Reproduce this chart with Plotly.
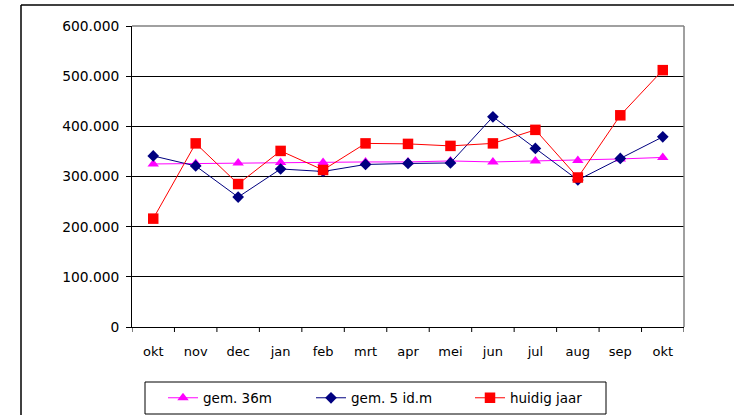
import plotly.graph_objects as go

months = ["okt", "nov", "dec", "jan", "feb", "mrt", "apr", "mei", "jun", "jul", "aug", "sep", "okt"]
gem36 = [325000, 326000, 327000, 328000, 328000, 329000, 329000, 331000, 329000, 331000, 332000, 335000, 338000]
gem5 = [341000, 321000, 259000, 315000, 310000, 324000, 326000, 327000, 419000, 356000, 293000, 336000, 379000]
huidig = [216000, 366000, 285000, 351000, 313000, 366000, 365000, 361000, 366000, 393000, 298000, 422000, 512000]

W, H = 734, 415
L, R, T, B = 132, 50, 26, 88
pw, ph = W - L - R, H - T - B

def px(x):
    return (x - L) / pw

def py(y):
    return (H - B - y) / ph

xcat = list(range(len(months)))

fig = go.Figure()
fig.add_trace(go.Scatter(x=xcat, y=gem36, name="gem. 36m", mode="lines+markers",
                         line=dict(color="#ff00ff", width=1),
                         marker=dict(symbol="triangle-up", size=10, color="#ff00ff"),
                         legend="legend"))
fig.add_trace(go.Scatter(x=xcat, y=gem5, name="gem. 5 id.m", mode="lines+markers",
                         line=dict(color="#000080", width=1),
                         marker=dict(symbol="diamond", size=9, color="#000080"),
                         legend="legend2"))
fig.add_trace(go.Scatter(x=xcat, y=huidig, name="huidig jaar", mode="lines+markers",
                         line=dict(color="#ff0000", width=1),
                         marker=dict(symbol="square", size=10.5, color="#ff0000"),
                         legend="legend3"))

font = dict(family="DejaVu Sans", size=13, color="black")
legfont = dict(family="DejaVu Sans", size=13.5, color="black")
legcommon = dict(orientation="h", yanchor="middle", xanchor="left",
                 xref="container", yref="container", y=1 - 398 / H,
                 bgcolor="rgba(0,0,0,0)", borderwidth=0, font=legfont)

fig.update_layout(
    width=W, height=H,
    margin=dict(l=L, r=R, t=T, b=B, autoexpand=False),
    paper_bgcolor="white", plot_bgcolor="white",
    separators=",.",
    font=font,
    showlegend=True,
    legend=dict(x=163 / W, **legcommon),
    legend2=dict(x=311 / W, **legcommon),
    legend3=dict(x=470 / W, **legcommon),
    xaxis=dict(
        range=[-0.5, len(months) - 0.5],
        tickmode="array", tickvals=xcat, ticktext=months,
        showgrid=False, zeroline=False,
        showline=True, linecolor="black", linewidth=1,
        ticks="", ticklabelstandoff=12, automargin=False,
    ),
    yaxis=dict(
        range=[0, 600000], dtick=100000, tick0=0,
        tickformat=",.0f",
        showgrid=True, gridcolor="black", gridwidth=1,
        zeroline=False,
        showline=True, linecolor="black", linewidth=1,
        ticks="outside", ticklen=5, tickcolor="black",
        ticklabelstandoff=4, automargin=False,
        tickfont=dict(family="DejaVu Sans", size=13.8, color="black"),
    ),
    shapes=[
        *[dict(type="line", xref="x", yref="paper", x0=i - 0.5, x1=i - 0.5, y0=0, y1=-5 / ph,
               line=dict(color="black", width=1)) for i in range(len(months) + 1)],
        dict(type="line", xref="paper", yref="paper", x0=0, x1=1, y0=1, y1=1,
             line=dict(color="#808080", width=1.5)),
        dict(type="line", xref="paper", yref="paper", x0=1, x1=1, y0=0, y1=1,
             line=dict(color="#808080", width=1.5)),
        dict(type="line", xref="paper", yref="paper", x0=px(21), x1=px(W + 10), y0=py(5), y1=py(5),
             line=dict(color="black", width=1.5)),
        dict(type="line", xref="paper", yref="paper", x0=px(21), x1=px(21), y0=py(5), y1=py(H + 10),
             line=dict(color="black", width=1.5)),
        dict(type="rect", xref="paper", yref="paper", x0=px(145), x1=px(606), y0=py(414), y1=py(382),
             line=dict(color="black", width=1)),
    ],
)

fig.write_html("out.html", config={"displayModeBar": False},
               post_script="document.body.style.margin='0';document.body.style.overflow='hidden';")
